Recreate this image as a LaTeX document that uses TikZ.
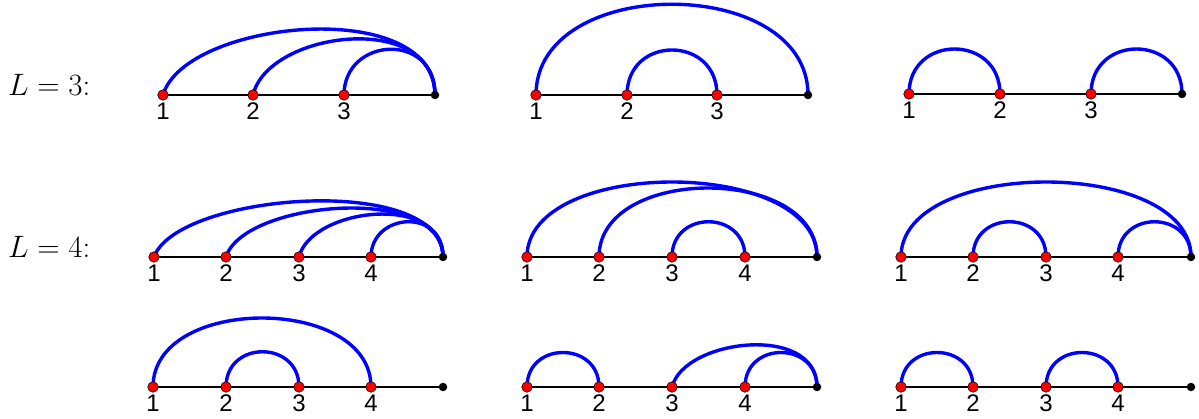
\documentclass[tikz,border=0pt]{standalone}
\usepackage{fontspec}
\newfontfamily\labfont{Liberation Sans}
\tikzset{
  baseln/.style={draw=black, line width=1.3pt},
  arcline/.style={draw=blue, line width=3.4pt},
  reddot/.style={circle, fill=red, draw=black, line width=0.6pt, minimum size=10.5pt, inner sep=0pt},
  enddot/.style={circle, fill=black, minimum size=8.5pt, inner sep=0pt},
  lab/.style={inner sep=0pt, font=\labfont\fontsize{24}{24}\selectfont},
  Llab/.style={inner sep=0pt, anchor=base west}
}
\newcommand\Ltext[1]{\scalebox{1.245}{\fontsize{24.88}{30}\selectfont$L=#1$:}}
% #1 prefix, #2 y, #3 red x list, #4 end x
\newcommand\mkpanel[4]{%
  \foreach \xx [count=\ii] in {#3} { \coordinate (#1-\ii) at (\xx,#2); }
  \coordinate (#1-e) at (#4,#2);
  \draw[baseln] (#1-1) -- (#1-e);
}
\newcommand\mkdots[2]{% #1 prefix, #2 n
  \foreach \ii in {1,...,#2} {
    \node[reddot] (#1-d\ii) at (#1-\ii) {};
    \node[lab, below=8pt] (#1-l\ii) at (#1-\ii) {\ii};
  }
  \node[enddot] (#1-de) at (#1-e) {};
}
\newcommand\symarc[3]{\draw[arcline] (#1) .. controls +(0,-#3) and +(0,-#3) .. (#2);}
\newcommand\asymarc[5]{\draw[arcline] (#1) .. controls +(#3,-#4) and +(0,-#5) .. (#2);}
\begin{document}
\begin{tikzpicture}[x=1pt,y=-1pt]
\useasboundingbox (0,0) rectangle (1199,419);
\node[Llab] (L3) at (8,96) {\Ltext{3}};
\node[Llab] (L4) at (8,258) {\Ltext{4}};
% Row 1
\mkpanel{a}{95}{163,253,344}{435}
\asymarc{a-1}{a-e}{22}{75}{100}
\asymarc{a-2}{a-e}{15}{64}{85}
\asymarc{a-3}{a-e}{0}{58}{64}
\mkdots{a}{3}
\mkpanel{b}{95}{536,627,717}{808}
\symarc{b-1}{b-e}{121}
\symarc{b-2}{b-3}{60}
\mkdots{b}{3}
\mkpanel{c}{94}{909,1000,1091}{1182}
\symarc{c-1}{c-2}{60}
\symarc{c-3}{c-e}{60}
\mkdots{c}{3}
% Row 2
\mkpanel{d}{257}{154,226,299,371}{443}
\asymarc{d-1}{d-e}{23}{64}{85}
\asymarc{d-2}{d-e}{17}{56}{74}
\asymarc{d-3}{d-e}{12}{49}{65}
\asymarc{d-4}{d-e}{0}{44}{50}
\mkdots{d}{4}
\mkpanel{f}{257}{527,599,672,745}{817}
\symarc{f-1}{f-e}{100}
\symarc{f-2}{f-e}{92}
\symarc{f-3}{f-4}{47}
\mkdots{f}{4}
\mkpanel{g}{257}{901,973,1046,1118}{1191}
\symarc{g-1}{g-e}{100}
\symarc{g-2}{g-3}{47}
\symarc{g-4}{g-e}{47}
\mkdots{g}{4}
% Row 3
\mkpanel{h}{387}{153,226,299,371}{443}
\symarc{h-1}{h-4}{92}
\symarc{h-2}{h-3}{47}
\mkdots{h}{4}
\mkpanel{k}{387}{527,599,672,745}{817}
\symarc{k-1}{k-2}{46}
\asymarc{k-3}{k-e}{12}{48}{64}
\symarc{k-4}{k-e}{46}
\mkdots{k}{4}
\mkpanel{m}{387}{901,973,1046,1118}{1191}
\symarc{m-1}{m-2}{46}
\symarc{m-3}{m-4}{46}
\mkdots{m}{4}
\end{tikzpicture}
\end{document}
